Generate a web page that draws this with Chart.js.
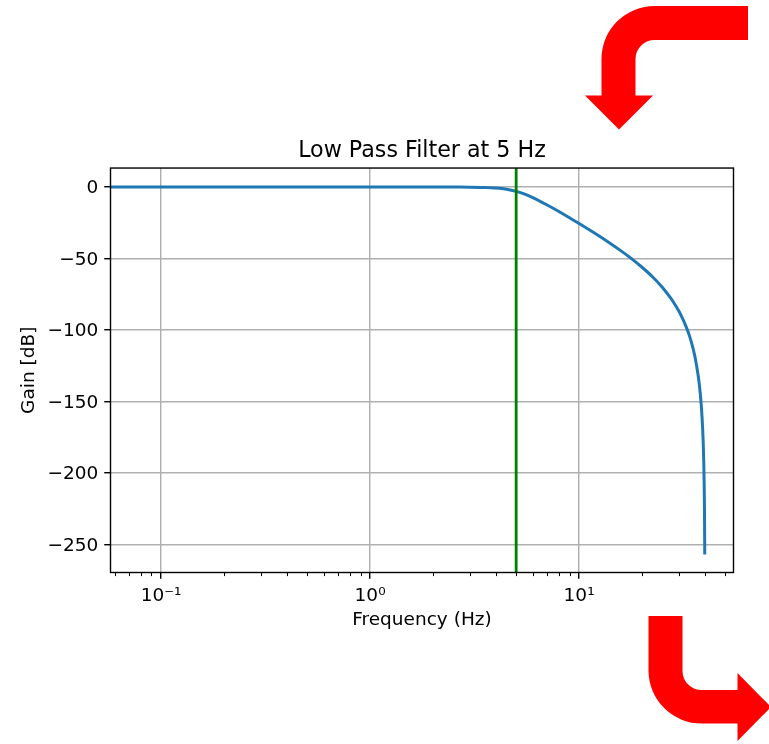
<!DOCTYPE html>
<html>
<head>
<meta charset="utf-8">
<script src="https://cdn.jsdelivr.net/npm/chart.js@4/dist/chart.umd.min.js"></script>
<style>
    html, body { margin: 0; padding: 0; background: #fff; }
    #wrap { position: relative; width: 769px; height: 744px; overflow: hidden; }
    #grafica { position: absolute; left: 0; top: 0; }
    #flechas { position: absolute; left: 0; top: 0; pointer-events: none; }
</style>
</head>
<body>
<div id="wrap">
    <canvas id="grafica" width="769" height="744"></canvas>
    <svg id="flechas" width="769" height="744">
        <path fill="#ff0000" d="M748 6H655A53 53 0 0 0 601.500 59V95.500H585L619 129.500L653 95.500H635.500V59A19 19 0 0 1 655 40H748Z"/>
        <path fill="#ff0000" d="M648.500 616H682.500V671A19 19 0 0 0 702 690H737.500V673L771 707L737.500 741V723.500H702A53 53 0 0 1 648.500 671Z"/>
    </svg>
</div>
<script>
'use strict';

// ── Datos ───────────────────────────────────
const frecuencias = [0.0573, 0.1, 0.3, 1, 2, 2.5, 3, 3.5, 4, 4.5, 5, 5.5, 6, 7, 8, 9, 10, 12, 14, 16, 17.5, 20,
    22.5, 25, 27.5, 28.75, 30, 31, 32.5, 33.75, 35, 35.5, 36, 37, 37.5, 38, 38.5, 39, 39.25, 39.5, 39.7, 39.8, 39.9, 39.92];
const ganancias = [0, 0, 0, 0, 0, -0.02, -0.07, -0.25, -0.65, -1.5, -3, -5, -7.4, -12.4, -17.1, -21.5, -25.5, -32.7, -39.1, -45, -49.2, -56.1,
    -62.9, -70.1, -77.9, -82.1, -86.7, -90.8, -97.6, -104.1, -112.2, -116, -120.1, -130.4, -136.6, -144.4, -154.5, -168.6, -178.6, -192.7, -210.4, -224.5, -248.6, -257];
const corteX = [5, 5];
const corteY = [-269.6, 13.3];
const ticksX = [0.1, 1, 10];
const ticksXMenores = [0.06, 0.07, 0.08, 0.09, 0.2, 0.3, 0.4, 0.5, 0.6, 0.7, 0.8, 0.9, 2, 3, 4, 5, 6, 7, 8, 9, 20, 30, 40, 50];
const ticksY = [0, -50, -100, -150, -200, -250];
const etiquetasX = { 0.1: '10⁻¹', 1: '10⁰', 10: '10¹' };

const NEGRO = '#000000';
const GRIS_GRILLA = '#b0b0b0';

Chart.defaults.font.family = '"DejaVu Sans"';
Chart.defaults.color = NEGRO;

// Marco completo del área y marcas menores del eje log
const marcoPlugin = {
    id: 'marco',
    afterDraw(chart) {
        const { ctx, chartArea: a, scales } = chart;
        ctx.save();
        ctx.strokeStyle = NEGRO;
        ctx.lineWidth = 1.4;
        ctx.strokeRect(a.left, a.top, a.right - a.left, a.bottom - a.top);
        ctx.lineWidth = 1;
        ctx.beginPath();
        ticksXMenores.forEach(v => {
            const px = Math.round(scales.x.getPixelForValue(v)) + 0.5;
            ctx.moveTo(px, a.bottom);
            ctx.lineTo(px, a.bottom + 3.6);
        });
        ctx.stroke();
        ctx.restore();
    }
};

new Chart(document.getElementById('grafica').getContext('2d'), {
    type: 'line',
    data: {
        datasets: [
            {
                label: 'Corte',
                data: corteX.map((x, i) => ({ x, y: corteY[i] })),
                borderColor: '#008000',
                borderWidth: 2.8,
                pointRadius: 0,
                tension: 0
            },
            {
                label: 'Gain',
                data: frecuencias.map((x, i) => ({ x, y: ganancias[i] })),
                borderColor: '#1f77b4',
                borderWidth: 3,
                pointRadius: 0,
                cubicInterpolationMode: 'monotone'
            }
        ]
    },
    options: {
        responsive: false,
        animation: false,
        events: [],
        layout: { padding: { left: 0, right: 35.5, top: 0, bottom: 0 } },
        plugins: {
            legend: { display: false },
            tooltip: { enabled: false },
            title: {
                display: true,
                fullSize: false,
                text: 'Low Pass Filter at 5 Hz',
                font: { size: 22.2, weight: 'normal' },
                color: NEGRO,
                padding: { top: 138, bottom: 3.4 }
            }
        },
        scales: {
            x: {
                type: 'logarithmic',
                min: 0.0573,
                max: 54.8,
                afterFit(scale) { scale.height = 171.5; },
                afterBuildTicks(scale) { scale.ticks = ticksX.map(value => ({ value })); },
                grid: { color: GRIS_GRILLA, lineWidth: 1.45, tickLength: 6.3, tickColor: NEGRO, tickWidth: 1.4 },
                border: { display: false },
                ticks: {
                    font: { size: 18.5 },
                    color: NEGRO,
                    padding: 6,
                    maxRotation: 0,
                    autoSkip: false,
                    callback: value => etiquetasX[value] || ''
                },
                title: {
                    display: true,
                    text: 'Frequency (Hz)',
                    font: { size: 18.5 },
                    color: NEGRO,
                    padding: { top: 0, bottom: 113 }
                }
            },
            y: {
                type: 'linear',
                min: -269.6,
                max: 13.3,
                afterFit(scale) { scale.width = 110.5; },
                afterBuildTicks(scale) { scale.ticks = ticksY.map(value => ({ value })); },
                grid: { color: GRIS_GRILLA, lineWidth: 1.45, tickLength: 6.3, tickColor: NEGRO, tickWidth: 1.4 },
                border: { display: false },
                ticks: {
                    font: { size: 18.5 },
                    color: NEGRO,
                    padding: 6,
                    labelOffset: 1.5,
                    autoSkip: false,
                    callback: value => String(value).replace('-', '−')
                },
                title: {
                    display: true,
                    text: 'Gain [dB]',
                    font: { size: 18.5 },
                    color: NEGRO,
                    padding: { top: 18, bottom: 0 }
                }
            }
        }
    },
    plugins: [marcoPlugin]
});
</script>
</body>
</html>
